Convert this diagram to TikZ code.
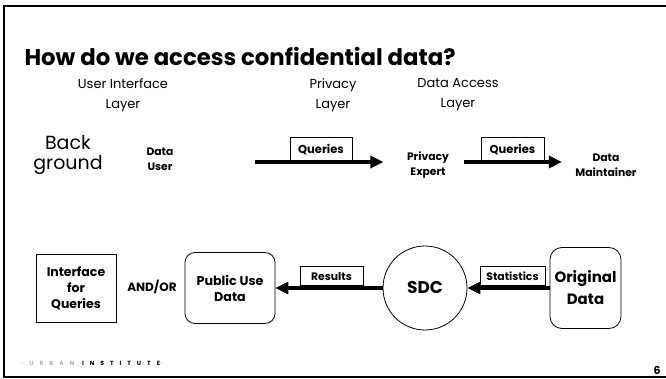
\documentclass[tikz,border=0pt]{standalone}
\usepackage{fontspec}
\setmainfont{Poppins}
\usetikzlibrary{positioning,arrows.meta,shapes.geometric}

\tikzset{
  bigarrow/.style={line width=3.5pt,-{Triangle[length=13pt,width=12pt]}},
  tagbox/.style={draw,line width=0.7pt,fill=white,inner sep=0pt,
    minimum height=#1,font=\bfseries\fontsize{10.8}{12}\selectfont},
  actor/.style={align=center,font=\bfseries\fontsize{10.8}{15}\selectfont},
  layer/.style={align=center,font=\fontsize{13}{20}\selectfont},
  store/.style={draw,line width=0.8pt,align=center,inner sep=0pt},
}

\begin{document}
\begin{tikzpicture}[x=1pt,y=-1pt]
  \useasboundingbox (0,0) rectangle (666,379);
  % slide frame (open on the right)
  \draw[line width=2.5pt] (666,6) -- (4,6) -- (4,377) -- (666,377);

  \node[anchor=base west,font=\bfseries\fontsize{22.8}{26}\selectfont] (title) at (21,66)
    {How do we access confidential data?};

  % layers
  \node[layer] (uil) at (123,95) {User Interface\\Layer};
  \node[layer] (pl)  at (333,95) {Privacy\\Layer};
  \node[layer] (dal) at (458,95) {Data Access\\Layer};

  % top row: who does what
  \node[align=center,font=\fontsize{19}{20}\selectfont] (bg) at (68,155) {Back\\ground};
  \node[actor] (duser)  at (160,159) {Data\\User};
  \node[actor] (pexp)   at (428,165) {Privacy\\Expert};
  \node[actor] (dmaint) at (606,165) {Data\\Maintainer};
  \coordinate (qstart) at (255,162);

  \node[tagbox=23pt,minimum width=62pt,anchor=south,font=\bfseries\fontsize{11.5}{12}\selectfont]
    (lq1) at (321,161) {Queries};
  \node[tagbox=23pt,minimum width=63pt,anchor=south,font=\bfseries\fontsize{11.5}{12}\selectfont]
    (lq2) at (512.5,161) {Queries};

  \draw[bigarrow,shorten >=20pt] (qstart) -- (qstart -| pexp.west);
  \draw[bigarrow,shorten <=11pt,shorten >=10pt] (pexp.east |- qstart) -- (dmaint.west |- qstart);

  % bottom row: data products
  \node[store,minimum width=80pt,minimum height=68pt,
    font=\bfseries\fontsize{12.5}{16}\selectfont] (iq) at (76,288) {Interface\\for\\Queries};
  \node[font=\bfseries\fontsize{12}{13}\selectfont] (andor) at (152,287) {AND/OR};
  \node[store,rounded corners=10pt,minimum width=90pt,minimum height=71pt,
    font=\bfseries\fontsize{12.7}{16}\selectfont] (pud) at (230,288) {Public Use\\Data};
  \node[store,circle,minimum size=84pt,
    font=\bfseries\fontsize{17}{18}\selectfont] (sdc) at (425,288) {SDC};
  \node[store,rounded corners=12pt,minimum width=71pt,minimum height=81pt,
    font=\bfseries\fontsize{15}{22}\selectfont] (orig) at (585.5,288) {Original\\Data};

  \node[tagbox=19pt,minimum width=63pt,anchor=south] (lres)  at (331.5,286) {Results};
  \node[tagbox=19pt,minimum width=65pt,anchor=south] (lstat) at (512.5,286) {Statistics};

  \draw[bigarrow] (sdc.west) -- (pud.east);
  \draw[bigarrow] (orig.west) -- (sdc.east);

  % footer
  \node[anchor=west,font=\bfseries\fontsize{6}{7}\selectfont\addfontfeatures{LetterSpace=100}]
    (logo) at (18,363) {\textcolor{gray!60}{·URBAN·}INSTITUTE\textcolor{gray!60}{·}};
  \node[font=\bfseries\fontsize{11}{12}\selectfont] (pgno) at (657,370) {6};
\end{tikzpicture}
\end{document}
